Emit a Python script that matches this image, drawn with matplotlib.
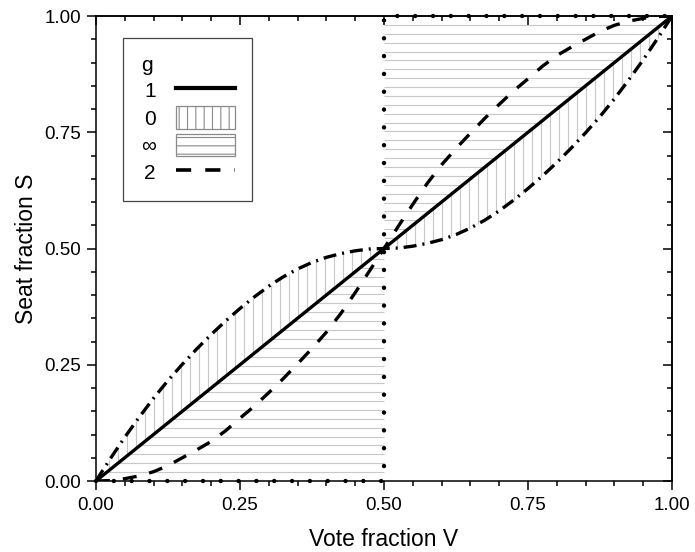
import numpy as np
import matplotlib
matplotlib.use("Agg")
import matplotlib.pyplot as plt
from matplotlib.lines import Line2D
from matplotlib.patches import Patch

plt.rcParams['font.family'] = ['Liberation Sans', 'DejaVu Sans']
plt.rcParams['hatch.linewidth'] = 0.8

# ---- data ----
V_line = [0.0, 1.0]
S_line = [0.0, 1.0]                      # g = 1

V_grid = [0.000, 0.025, 0.050, 0.075, 0.100, 0.125, 0.150, 0.175, 0.200, 0.225,
          0.250, 0.275, 0.300, 0.325, 0.350, 0.375, 0.400, 0.425, 0.450, 0.475,
          0.500, 0.525, 0.550, 0.575, 0.600, 0.625, 0.650, 0.675, 0.700, 0.725,
          0.750, 0.775, 0.800, 0.825, 0.850, 0.875, 0.900, 0.925, 0.950, 0.975, 1.000]
S_g2 = [0.000, 0.001, 0.005, 0.011, 0.020, 0.033, 0.050, 0.067, 0.085, 0.108,
        0.135, 0.161, 0.190, 0.220, 0.252, 0.285, 0.320, 0.360, 0.405, 0.452,
        0.500, 0.548, 0.595, 0.640, 0.680, 0.715, 0.748, 0.780, 0.810, 0.839,
        0.865, 0.892, 0.915, 0.933, 0.950, 0.967, 0.980, 0.989, 0.995, 0.999, 1.000]  # g = 2 (dashed)
S_dd = [0.000, 0.048, 0.094, 0.137, 0.178, 0.216, 0.251, 0.284, 0.315, 0.344,
        0.371, 0.396, 0.419, 0.439, 0.456, 0.470, 0.481, 0.489, 0.495, 0.499,
        0.500, 0.501, 0.505, 0.511, 0.519, 0.530, 0.544, 0.561, 0.581, 0.604,
        0.629, 0.656, 0.685, 0.716, 0.749, 0.784, 0.822, 0.863, 0.906, 0.952, 1.000]  # dash-dot curve

V_step = [0.0, 0.5, 0.5, 1.0]
S_step = [0.0, 0.0, 1.0, 1.0]            # g = infinity

legend_title = "g"
legend_labels = ["1", "0", "\u221e", "2"]
xticks = [0.0, 0.25, 0.5, 0.75, 1.0]
xtick_labels = ["0.00", "0.25", "0.50", "0.75", "1.00"]
yticks = [0.0, 0.25, 0.5, 0.75, 1.0]
ytick_labels = ["0.00", "0.25", "0.50", "0.75", "1.00"]

# ---- figure ----
fig = plt.figure(figsize=(6.95, 5.52), dpi=100)
ax = fig.add_axes([0.138, 0.1286, 0.829, 0.8424])
ax.set_xlim(0, 1)
ax.set_ylim(0, 1)

hatch_col = '#c8c8c8'
hatch_lw = 0.8

# vertical hatch between diagonal and dash-dot curve
xs = np.arange(0.0078, 1.0, 0.0156)
y_a = np.interp(xs, V_line, S_line)
y_b = np.interp(xs, V_grid, S_dd)
ax.vlines(xs, np.minimum(y_a, y_b), np.maximum(y_a, y_b), colors=hatch_col,
          linewidth=hatch_lw, zorder=1)

# horizontal hatch between diagonal and step (g = infinity)
sp = 0.0191
ys_lo = np.arange(sp, 0.5, sp)
ax.hlines(ys_lo, np.interp(ys_lo, S_line, V_line), 0.5, colors=hatch_col,
          linewidth=hatch_lw, zorder=1)
ys_hi = 1.0 - np.arange(sp, 0.5, sp)
ax.hlines(ys_hi, 0.5, np.interp(ys_hi, S_line, V_line), colors=hatch_col,
          linewidth=hatch_lw, zorder=1)

lw = 2.4
ax.plot(V_line, S_line, color='black', linewidth=lw, zorder=4)
ax.plot(V_grid, S_g2, color='black', linewidth=lw, dashes=(4.2, 3.9), zorder=4)
ax.plot(V_grid, S_dd, color='black', linewidth=lw, dashes=(3.9, 1.8, 0.6, 1.8), zorder=4)
ax.plot(V_step, S_step, color='black', linewidth=3.2, dashes=(0.01, 4.0),
        dash_capstyle='round', clip_on=False, zorder=5)

# ---- axes styling ----
for s in ax.spines.values():
    s.set_linewidth(1.1)
ax.set_xticks(xticks)
ax.set_xticklabels(xtick_labels)
ax.set_yticks(yticks)
ax.set_yticklabels(ytick_labels)
ax.xaxis.set_minor_locator(matplotlib.ticker.MultipleLocator(0.05))
ax.yaxis.set_minor_locator(matplotlib.ticker.MultipleLocator(0.05))
ax.tick_params(which='major', direction='out', length=6.5, width=1.1, labelsize=13.5)
ax.tick_params(which='minor', direction='out', length=3.8, width=1.1)
ax.tick_params(axis='x', which='major', pad=5)
ax.tick_params(axis='y', which='major', pad=4)

ident = (lambda x: x, lambda x: x)
top = ax.secondary_xaxis('top', functions=ident)
top.set_xticks(xticks)
top.xaxis.set_minor_locator(matplotlib.ticker.MultipleLocator(0.05))
top.tick_params(which='major', direction='in', length=6.5, width=1.1, labeltop=False)
top.tick_params(which='minor', direction='in', length=3.8, width=1.1)
right = ax.secondary_yaxis('right', functions=ident)
right.set_yticks(yticks)
right.yaxis.set_minor_locator(matplotlib.ticker.MultipleLocator(0.05))
right.tick_params(which='major', direction='in', length=6.5, width=1.1, labelright=False)
right.tick_params(which='minor', direction='in', length=3.8, width=1.1)
for sa in (top, right):
    for s in sa.spines.values():
        s.set_linewidth(1.1)

ax.set_xlabel("Vote fraction V", fontsize=16.5, labelpad=10)
ax.set_ylabel("Seat fraction S", fontsize=16.5, labelpad=5)

# ---- legend ----
handles = [
    Line2D([], [], color='black', linewidth=3),
    Patch(facecolor='white', edgecolor='#8a8a8a', hatch='||', linewidth=0.9),
    Patch(facecolor='white', edgecolor='#8a8a8a', hatch='--', linewidth=0.9),
    Line2D([], [], color='black', linewidth=2.6, dashes=(4.2, 3.9)),
]
leg = ax.legend(handles, legend_labels, title=legend_title, loc='upper left',
                bbox_to_anchor=(0.047, 0.953), borderaxespad=0, markerfirst=False,
                alignment='left', fontsize=15, title_fontsize=15,
                handlelength=2.8, handleheight=1.3, handletextpad=1.0,
                labelspacing=0.22, borderpad=0.85, fancybox=False, framealpha=1,
                edgecolor='#444444')
leg.get_frame().set_linewidth(0.9)
leg.set_zorder(6)

fig.savefig("out.png", dpi=100)
